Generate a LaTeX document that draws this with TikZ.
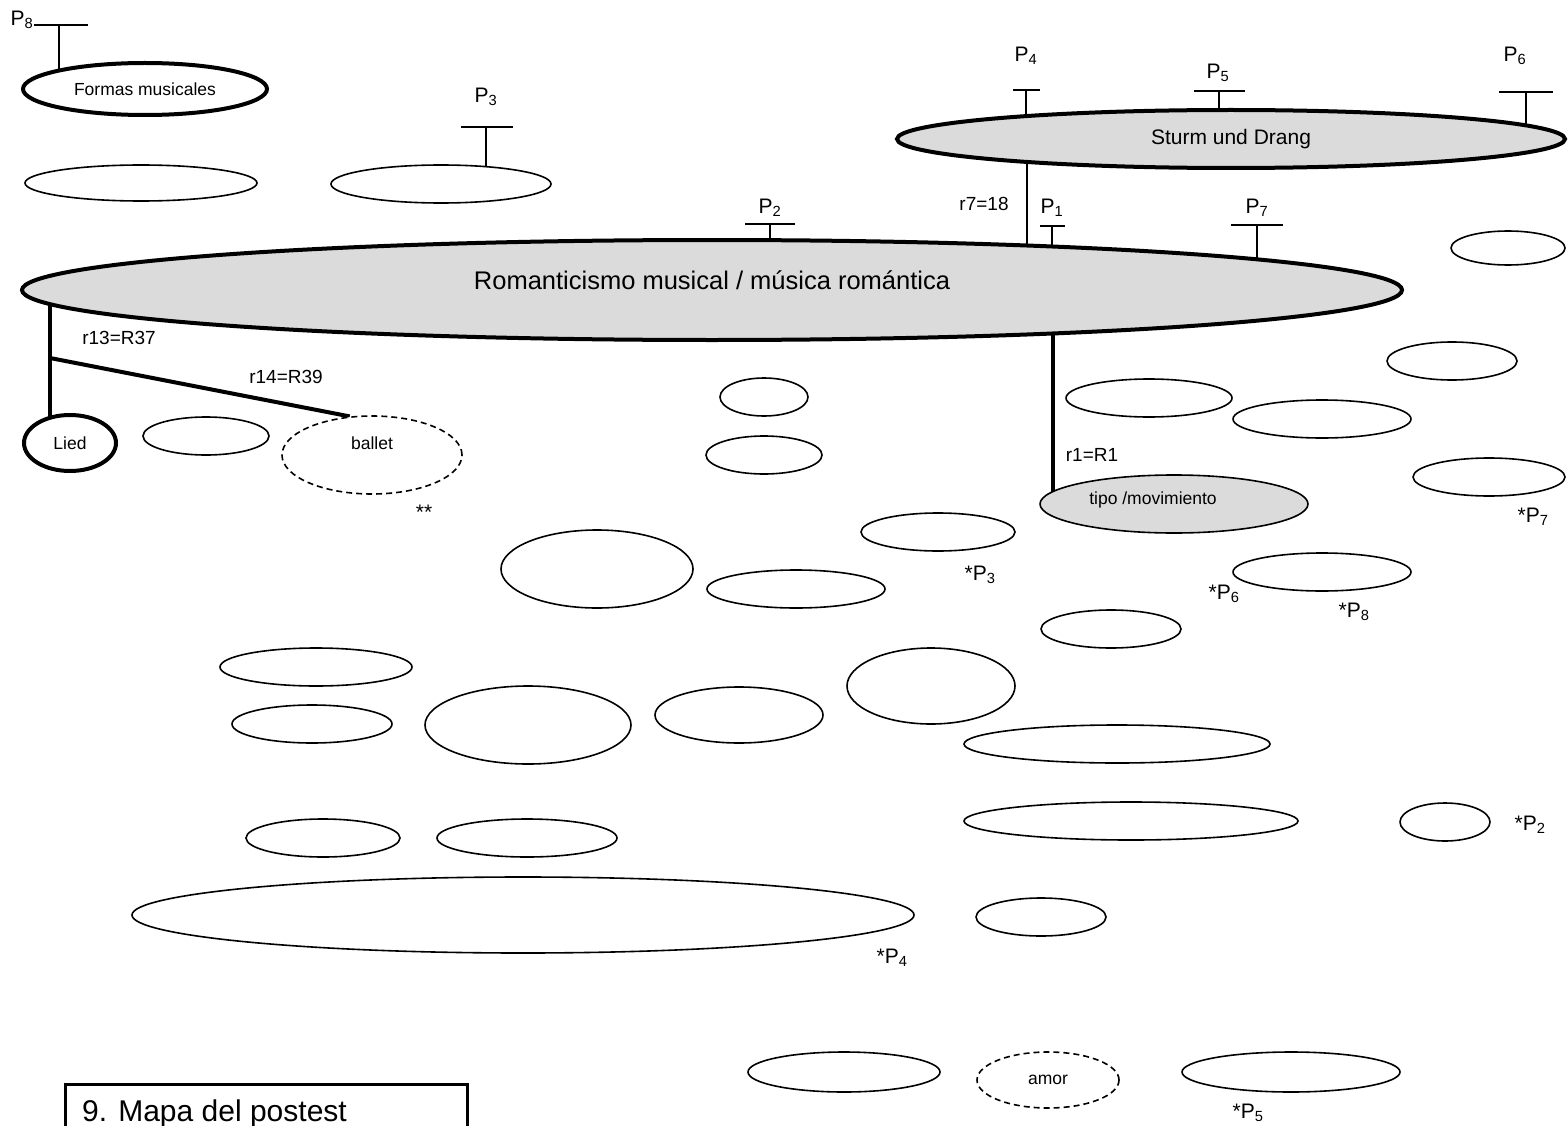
\documentclass[tikz,border=0pt]{standalone}
\usepackage{fontspec}
\setmainfont{Liberation Sans}
\usetikzlibrary{shapes.geometric, backgrounds}

\newcommand{\pidx}[1]{P\textsubscript{#1}}

\begin{document}
\begin{tikzpicture}[
		x = 1pt, y = -1pt,
		every node/.style = {inner sep = 0pt},
		idea/.style = {draw, ellipse, fill = white, line width = 1.6pt},
		strong/.style = {idea, line width = 4pt},
		grayfill/.style = {fill = black!14},
		unsure/.style = {idea, dash pattern = on 6pt off 4pt},
		sz/.style 2 args = {minimum width = #1pt, minimum height = #2pt},
		lbl/.style = {font = \fontsize{17.5}{20}\selectfont},
		rel/.style = {font = \fontsize{19}{22}\selectfont},
		plbl/.style = {font = \fontsize{21}{24}\selectfont},
		bold/.style = {line width = 4pt},
		stem/.style = {line width = 1.5pt}
		]
		\useasboundingbox (0,0) rectangle (1568,1126);

		% main concepts
		\node (formas) [strong, sz={244}{52}, lbl] at (145,89) {Formas musicales};
		\node (sturm) [strong, grayfill, sz={668}{58}, font = \fontsize{21}{24}\selectfont] at (1231,139) {Sturm und Drang};
		\node (rom) [strong, grayfill, sz={1380}{100},
			label = {[font = \fontsize{25.5}{28}\selectfont, yshift = 10pt]center:Romanticismo musical / música romántica}] at (712,290) {};
		\node (lied) [strong, sz={92}{56}, lbl] at (70,443) {Lied};
		\node (ballet) [unsure, sz={180}{78}, label = {[lbl, yshift = 12pt]center:ballet}] at (372,455) {};
		\node (tipo) [idea, grayfill, sz={268}{58}, label = {[lbl, xshift = -21pt, yshift = 4pt]center:tipo /movimiento}] at (1174,504) {};
		\node (amor) [unsure, sz={142}{56}, lbl] at (1048,1080) {amor};

		% empty concepts
		\node (e2)  [idea, sz={232}{36}] at (141,183) {};
		\node (e3)  [idea, sz={220}{38}] at (441,184) {};
		\node (e6)  [idea, sz={114}{34}] at (1508,248) {};
		\node (e8)  [idea, sz={126}{38}] at (206,436) {};
		\node (e10) [idea, sz={88}{38}]  at (764,397) {};
		\node (e11) [idea, sz={116}{38}] at (764,455) {};
		\node (e12) [idea, sz={166}{38}] at (1149,398) {};
		\node (e13) [idea, sz={178}{38}] at (1322,419) {};
		\node (e14) [idea, sz={130}{38}] at (1452,361) {};
		\node (e15) [idea, sz={152}{38}] at (1489,477) {};
		\node (e17) [idea, sz={154}{38}] at (938,532) {};
		\node (e18) [idea, sz={192}{78}] at (597,569) {};
		\node (e19) [idea, sz={178}{38}] at (796,589) {};
		\node (e20) [idea, sz={178}{38}] at (1322,572) {};
		\node (e21) [idea, sz={140}{38}] at (1111,629) {};
		\node (e22) [idea, sz={192}{38}] at (316,667) {};
		\node (e23) [idea, sz={168}{76}] at (931,686) {};
		\node (e24) [idea, sz={160}{38}] at (312,724) {};
		\node (e25) [idea, sz={206}{78}] at (528,725) {};
		\node (e26) [idea, sz={168}{56}] at (739,715) {};
		\node (e27) [idea, sz={306}{38}] at (1117,744) {};
		\node (e28) [idea, sz={334}{38}] at (1131,821) {};
		\node (e29) [idea, sz={90}{38}]  at (1445,822) {};
		\node (e30) [idea, sz={154}{38}] at (323,838) {};
		\node (e31) [idea, sz={180}{38}] at (527,838) {};
		\node (e32) [idea, sz={782}{76}] at (523,915) {};
		\node (e33) [idea, sz={130}{38}] at (1041,917) {};
		\node (e34) [idea, sz={192}{40}] at (844,1072) {};
		\node (e36) [idea, sz={218}{40}] at (1291,1072) {};

		% markers P
		\coordinate (t8) at (59,25);
		\coordinate (t3) at (486,127);
		\coordinate (t4) at (1026,90);
		\coordinate (t5) at (1219,91);
		\coordinate (t6) at (1526,92);
		\coordinate (t2) at (770,224);
		\coordinate (t1) at (1052,226);
		\coordinate (t7) at (1257,225);
		\draw[stem] ([xshift=-25pt]t8) -- ([xshift=29pt]t8);
		\draw[stem] ([xshift=-25pt]t3) -- ([xshift=27pt]t3);
		\draw[stem] ([xshift=-13pt]t4) -- ([xshift=14pt]t4);
		\draw[stem] ([xshift=-25pt]t5) -- ([xshift=26pt]t5);
		\draw[stem] ([xshift=-27pt]t6) -- ([xshift=27pt]t6);
		\draw[stem] ([xshift=-25pt]t2) -- ([xshift=25pt]t2);
		\draw[stem] ([xshift=-12pt]t1) -- ([xshift=13pt]t1);
		\draw[stem] ([xshift=-26pt]t7) -- ([xshift=26pt]t7);

		% relations
		\coordinate (r7) at (1027,0);
		\coordinate (r13) at (50,0);
		\coordinate (fork) at (50,358);
		\coordinate (r1) at (1053,0);
		\begin{scope}[on background layer]
			\draw[stem] (t8) -- (t8 |- formas.center);
			\draw[stem] (t3) -- (t3 |- e3.center);
			\draw[stem] (t4) -- (t4 |- sturm.center);
			\draw[stem] (t5) -- (t5 |- sturm.center);
			\draw[stem] (t6) -- (t6 |- sturm.center);
			\draw[stem] (t2) -- (t2 |- rom.center);
			\draw[stem] (t1) -- (t1 |- rom.center);
			\draw[stem] (t7) -- (t7 |- rom.center);
			\draw[line width = 1.3pt] (sturm.center -| r7) -- (rom.center -| r7);
			\draw[bold] (rom.center -| r13) -- (lied.center -| r13);
			\draw[bold] (fork) -- (ballet.120);
			\draw[bold] (rom.center -| r1) -- (tipo.center -| r1);
		\end{scope}

		% Put texts beside the shapes
		\begin{scope}[plbl]
			\node (p8) at (22,20) {\pidx{8}};
			\node (p3) at (486,97) {\pidx{3}};
			\node (p4) at (1026,56) {\pidx{4}};
			\node (p5) at (1218,73) {\pidx{5}};
			\node (p6) at (1515,56) {\pidx{6}};
			\node (p2) at (770,208) {\pidx{2}};
			\node (p1) at (1052,208) {\pidx{1}};
			\node (p7) at (1257,208) {\pidx{7}};
			\node (s3) at (980,575) {*\pidx{3}};
			\node (s7) at (1533,517) {*\pidx{7}};
			\node (s6) at (1224,594) {*\pidx{6}};
			\node (s8) at (1354,612) {*\pidx{8}};
			\node (s2) at (1530,825) {*\pidx{2}};
			\node (s4) at (892,958) {*\pidx{4}};
			\node (s5) at (1248,1113) {*\pidx{5}};
			\node (stars) at (424,512) {**};
		\end{scope}
		\begin{scope}[rel]
			\node (l7) at (984,204) {r7=18};
			\node (l13) at (119,338) {r13=R37};
			\node (l14) at (286,377) {r14=R39};
			\node (l1) at (1092,455) {r1=R1};
		\end{scope}

		% caption box
		\node (box) [draw, line width = 3pt, anchor = north west, minimum width = 402pt, minimum height = 70pt] at (64,1083) {};
		\node (caption) [anchor = base west, font = \fontsize{30}{33}\selectfont] at (82,1121) {9. Mapa del postest};
	\end{tikzpicture}
\end{document}
